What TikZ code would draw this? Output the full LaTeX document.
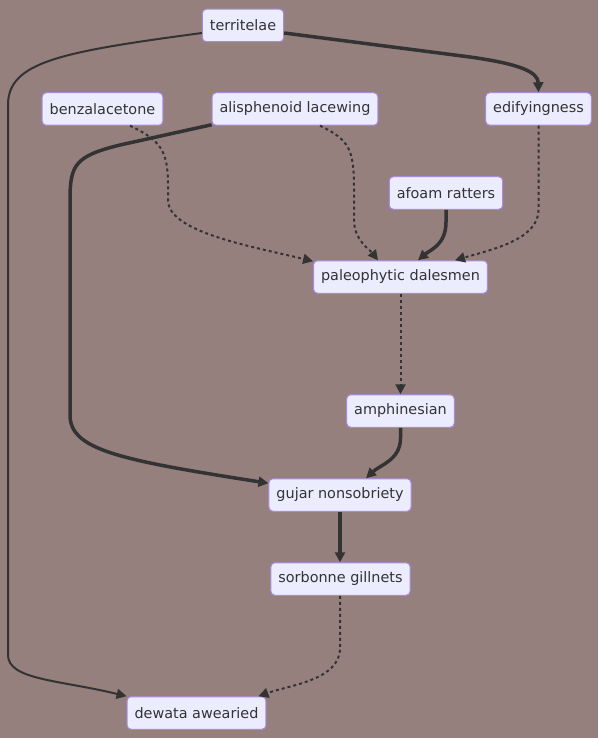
\documentclass[tikz,border=0pt]{standalone}
\usepackage{fontspec}
\setmainfont{DejaVu Sans}
\usetikzlibrary{arrows.meta,calc}
\definecolor{bgc}{RGB}{150,128,126}
\definecolor{ndfill}{HTML}{ECECFF}
\definecolor{ndstroke}{HTML}{A88BDF}
\definecolor{txt}{HTML}{333333}
\definecolor{ln}{HTML}{333333}
\begin{document}
\begin{tikzpicture}[x=1pt,y=-1pt,
  nd/.style={draw=ndstroke, fill=ndfill, line width=1pt, rounded corners=4pt,
    text=txt, font=\fontsize{14.4}{16}\selectfont, inner xsep=7.5pt, inner ysep=0pt,
    minimum height=32.5pt},
  base/.style={draw=ln, -{Triangle[length=10pt,width=10pt]}},
  enorm/.style={base, line width=2pt},
  ethick/.style={base, line width=3.5pt},
  edot/.style={base, line width=2pt, dash pattern=on 3pt off 3pt}]
\useasboundingbox[fill=bgc] (0,0) rectangle (598,738);

\node[nd] (ter) at (243,25.5) {territelae};
\node[nd] (ben) at (102.5,109) {benzalacetone};
\node[nd] (ali) at (295,109) {alisphenoid lacewing};
\node[nd] (edi) at (538.5,109) {edifyingness};
\node[nd] (afo) at (446,193) {afoam ratters};
\node[nd] (pal) at (400.5,277) {paleophytic dalesmen};
\node[nd] (amp) at (400.5,411) {amphinesian};
\node[nd] (guj) at (340,495) {gujar nonsobriety};
\node[nd] (sor) at (340.5,579) {sorbonne gillnets};
\node[nd] (dew) at (196.5,713) {dewata awearied};

% territelae -> dewata awearied
\draw[enorm] ($(ter.west)+(0,7.5)$) .. controls (60,52) and (8,62) .. (8,105)
  -- (8,655) .. controls (8,680) and (60,680) .. ($(dew.north west)+(0,0)$);
% territelae -> edifyingness
\draw[ethick] ($(ter.east)+(0,7.5)$) -- (470,57) .. controls (520,64) and (538,72) .. (edi.north);
% benzalacetone -> paleophytic dalesmen
\draw[edot] ($(ben.south)+(27.5,0)$) .. controls (160,140) and (168,150) .. (168,185)
  -- (168,200) .. controls (168,232) and (250,246) .. ($(pal.north west)+(0,1)$);
% alisphenoid lacewing -> gujar nonsobriety
\draw[ethick] ($(ali.south west)+(0,-1)$) -- (120,145) .. controls (75,156) and (70,165) .. (70,200)
  -- (70,415) .. controls (70,450) and (120,460) .. ($(guj.north west)+(0,5)$);
% alisphenoid lacewing -> paleophytic dalesmen
\draw[edot] ($(ali.south)+(25,0)$) .. controls (350,140) and (354,150) .. (354,190)
  -- (354,220) .. controls (354,240) and (370,250) .. ($(pal.north)+(-22.5,0)$);
% afoam ratters -> paleophytic dalesmen
\draw[ethick] (afo.south) -- (446,222) .. controls (446,245) and (430,250) .. ($(pal.north)+(17.5,0)$);
% edifyingness -> paleophytic dalesmen
\draw[edot] (edi.south) -- (538.5,210) .. controls (538.5,240) and (490,250) .. ($(pal.north)+(54.5,0)$);
% paleophytic dalesmen -> amphinesian
\draw[edot] (pal.south) -- (amp.north);
% amphinesian -> gujar nonsobriety
\draw[ethick] (amp.south) -- (400.5,438) .. controls (400.5,460) and (380,465) .. ($(guj.north)+(26,0)$);
% gujar nonsobriety -> sorbonne gillnets
\draw[ethick] (guj.south) -- (sor.north -| guj.south);
% sorbonne gillnets -> dewata awearied
\draw[edot] ($(sor.south)+(-0.5,0)$) -- (340,648) .. controls (340,680) and (290,685) .. ($(dew.north east)+(-8,0)$);
\end{tikzpicture}
\end{document}
